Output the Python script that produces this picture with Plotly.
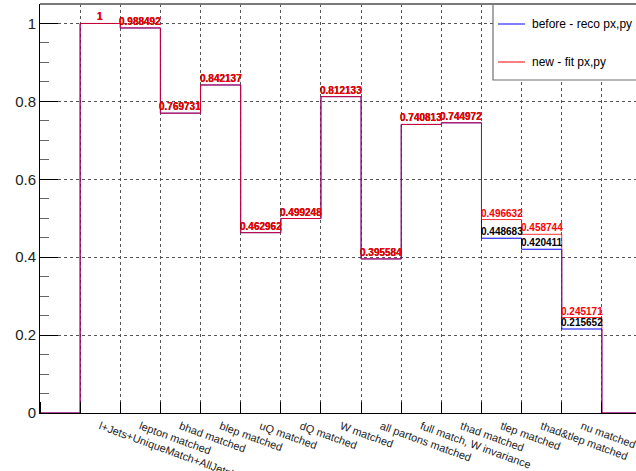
import plotly.graph_objects as go

# Matching efficiency per selection step
categories = [
    "l+Jets+UniqueMatch+AllJetsInAcceptance",
    "lepton matched",
    "bhad matched",
    "blep matched",
    "uQ matched",
    "dQ matched",
    "W matched",
    "all partons matched",
    "full match, W invariance",
    "thad matched",
    "tlep matched",
    "thad&tlep matched",
    "nu matched",
]
before_vals = [1, 0.988492, 0.769731, 0.842137, 0.462962, 0.499248, 0.812133,
               0.395584, 0.740813, 0.744972, 0.448683, 0.420411, 0.215652]
new_vals = [1, 0.988492, 0.769731, 0.842137, 0.462962, 0.499248, 0.812133,
            0.395584, 0.740813, 0.744972, 0.496632, 0.458744, 0.245171]
y_ticks = [0, 0.2, 0.4, 0.6, 0.8, 1]

n = len(categories)
# one empty bin on each side of the filled bins (edges 0 .. n+2)
edges = list(range(n + 3))
centers = [i + 1.5 for i in range(n)]


def step_y(vals):
    return [0] + list(vals) + [0, 0]


def fmt(v):
    return "%g" % v


FONT = "Liberation Sans, Arial, sans-serif"

fig = go.Figure()
fig.add_trace(go.Scatter(x=edges, y=step_y(before_vals), mode="lines",
                         line=dict(color="#0000ff", width=1, shape="hv"),
                         showlegend=False, hoverinfo="skip"))
fig.add_trace(go.Scatter(x=edges, y=step_y(new_vals), mode="lines",
                         line=dict(color="#ff0000", width=1, shape="hv"),
                         opacity=0.8, showlegend=False, hoverinfo="skip"))

annotations = []
for c, b in zip(centers, before_vals):
    annotations.append(dict(x=c, y=b, xref="x", yref="y", text=fmt(b),
                            showarrow=False, yanchor="bottom", xanchor="center",
                            borderpad=0,
                            font=dict(family=FONT, size=10, color="#000000",
                                      weight="bold")))
for c, v in zip(centers, new_vals):
    annotations.append(dict(x=c, y=v, xref="x", yref="y", text=fmt(v),
                            showarrow=False, yanchor="bottom", xanchor="center",
                            borderpad=0,
                            font=dict(family=FONT, size=10, color="#ff0000",
                                      weight="bold")))

# legend box
legend_items = [("before - reco px,py", "#0000ff", 24), ("new - fit px,py", "#ff0000", 62)]
shapes = [
    dict(type="rect", xref="paper", yref="paper", x0=(493 - 40) / 596, x1=1.02,
         y0=(413 - 80) / 409, y1=1.0, line=dict(color="#6e6e6e", width=1.2),
         fillcolor="white", layer="above"),
    dict(type="line", xref="paper", yref="paper", x0=0, x1=1, y0=1, y1=1,
         line=dict(color="#7a7a7a", width=2)),
]
for label, col, ypix in legend_items:
    yp = (413 - ypix) / 409
    shapes.append(dict(type="line", xref="paper", yref="paper",
                       x0=(498 - 40) / 596, x1=(525 - 40) / 596, y0=yp, y1=yp,
                       line=dict(color=col, width=1), layer="above"))
    annotations.append(dict(x=(530 - 40) / 596, y=yp, xref="paper", yref="paper",
                            text=label, showarrow=False, xanchor="left",
                            yanchor="middle",
                            font=dict(family=FONT, size=12, color="#000000")))

fig.update_layout(
    width=636, height=471,
    margin=dict(l=40, r=0, t=4, b=58, autoexpand=False),
    paper_bgcolor="white", plot_bgcolor="white",
    showlegend=False,
    annotations=annotations,
    shapes=shapes,
    xaxis=dict(
        range=[0, 14.85], automargin=False,
        tickmode="array", tickvals=centers, ticktext=categories,
        tickangle=20, ticks="", showgrid=False, zeroline=False,
        ticklabeloverflow="allow", ticklabelstandoff=2,
        showline=True, linecolor="#000000", linewidth=1,
        tickfont=dict(family=FONT, size=11, color="#222222"),
        minor=dict(tickmode="array", tickvals=edges, ticks="inside", ticklen=11,
                   tickcolor="#000000", showgrid=True, gridcolor="#555555",
                   griddash="dot", gridwidth=1),
    ),
    yaxis=dict(
        range=[0, 1.05], automargin=False,
        tickmode="array", tickvals=y_ticks, ticktext=[fmt(v) for v in y_ticks],
        ticks="inside", ticklen=18, tickcolor="#000000",
        showgrid=True, gridcolor="#555555", griddash="dot", gridwidth=1,
        zeroline=False, showline=True, linecolor="#000000", linewidth=1,
        tickfont=dict(family=FONT, size=15, color="#222222"),
        minor=dict(dtick=0.05, tick0=0, ticks="inside", ticklen=9,
                   tickcolor="#666666", showgrid=False),
    ),
)

fig.write_html("out.html")
